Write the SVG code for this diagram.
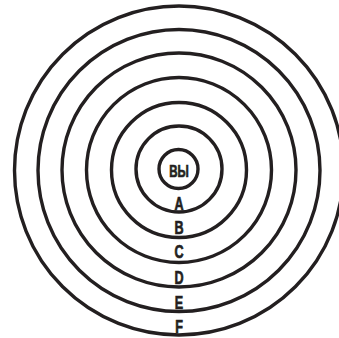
<svg xmlns="http://www.w3.org/2000/svg" width="339" height="338" viewBox="0 0 339 338">
  <style>
    .ring { fill: none; stroke: #231f20; stroke-width: 3.4; }
    .lbl { font-family: "Liberation Sans", Arial, sans-serif; font-weight: 700; fill: #231f20; stroke: #231f20; stroke-width: 0.7; text-anchor: middle; font-size: 18px; }
  </style>
  <rect width="339" height="338" fill="#ffffff"/>
  <g id="ring-F"><circle class="ring" cx="179" cy="170.5" r="164.5"/><text class="lbl" transform="translate(179,333) scale(0.7,1)">F</text></g>
  <g id="ring-E"><circle class="ring" cx="179" cy="170.5" r="141"/><text class="lbl" transform="translate(179,309) scale(0.7,1)">E</text></g>
  <g id="ring-D"><circle class="ring" cx="179" cy="170" r="117"/><text class="lbl" transform="translate(179,284) scale(0.7,1)">D</text></g>
  <g id="ring-C"><circle class="ring" cx="179" cy="170" r="92.5"/><text class="lbl" transform="translate(179,258) scale(0.7,1)">C</text></g>
  <g id="ring-B"><circle class="ring" cx="179" cy="170" r="67.5"/><text class="lbl" transform="translate(179,234) scale(0.7,1)">B</text></g>
  <g id="ring-A"><circle class="ring" cx="179" cy="169" r="43"/><text class="lbl" transform="translate(179,210) scale(0.7,1)">A</text></g>
  <g id="you"><circle class="ring" cx="178.5" cy="169" r="19.5"/><text class="lbl" style="font-size:16px" transform="translate(179,177) scale(0.72,1)">ВЫ</text></g>
  <g id="connectors"></g>
</svg>
